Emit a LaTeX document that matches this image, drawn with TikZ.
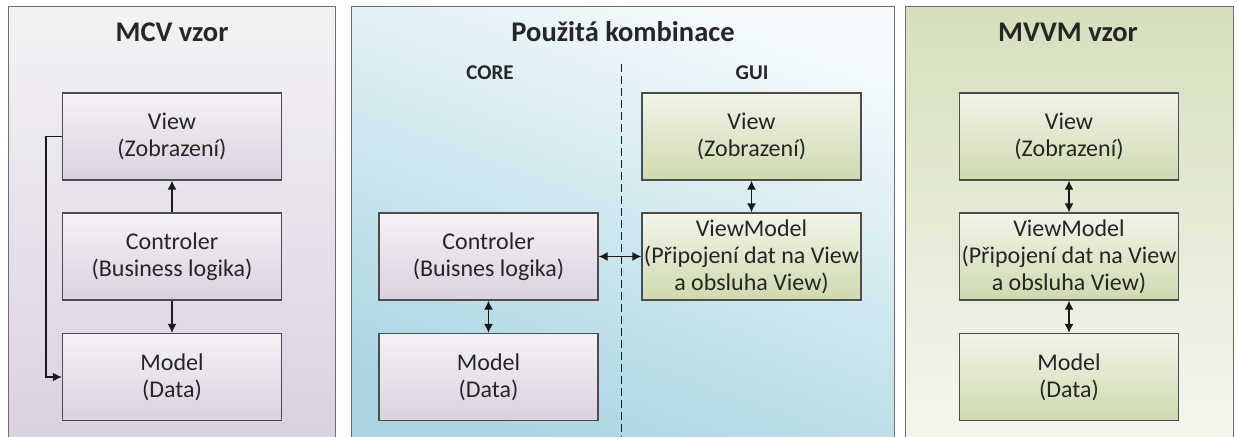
\documentclass[tikz,border=0pt]{standalone}
\usepackage{fontspec}
\setmainfont{Carlito}
\usetikzlibrary{arrows.meta}
\definecolor{panelborder}{HTML}{6E6E6E}
\definecolor{boxborder}{HTML}{4D4D4D}
\definecolor{lpTop}{HTML}{F4F2F5}
\definecolor{lpBot}{HTML}{DAD1E0}
\definecolor{mpTop}{HTML}{F4FAFC}
\definecolor{mpBot}{HTML}{A9D5E2}
\definecolor{rpTop}{HTML}{D5DFBC}
\definecolor{rpBot}{HTML}{F5F7EF}
\definecolor{lbTop}{HTML}{F5F2F6}
\definecolor{lbBot}{HTML}{DAD1DF}
\definecolor{gbTop}{HTML}{F1F4E8}
\definecolor{gbBot}{HTML}{CFDAAF}
\definecolor{txt}{HTML}{262626}
\definecolor{arrowcol}{HTML}{1A1A1A}
\tikzset{
  panel/.style={draw=panelborder, line width=1pt},
  box/.style={draw=boxborder, line width=1.3pt, minimum width=219pt, minimum height=87pt,
    align=center, inner sep=0pt, text=txt, font=\fontsize{24}{27}\selectfont},
  lbox/.style={box, top color=lbTop, bottom color=lbBot},
  gbox/.style={box, top color=gbTop, bottom color=gbBot},
  ptitle/.style={font=\fontsize{28.5}{32}\selectfont\bfseries, text=txt, inner sep=0pt},
  subtitle/.style={font=\fontsize{21}{24}\selectfont\bfseries, text=txt, inner sep=0pt},
  conn/.style={line width=1.3pt, draw=arrowcol},
  arr/.style={conn, -{Latex[length=9pt,width=9pt]}},
  darr/.style={conn, {Latex[length=9pt,width=9pt]}-{Latex[length=9pt,width=9pt]}},
}
\begin{document}
\begin{tikzpicture}[x=1pt,y=-1pt]
\useasboundingbox (0,0) rectangle (1238,436);
\clip (0,0) rectangle (1238,436);
\fill[white] (0,0) rectangle (1238,436);
% panels
\path[panel, top color=lpTop, bottom color=lpBot] (8,7) rectangle (335,445);
\path[panel, top color=mpTop, bottom color=mpBot, shading angle=-20] (351,7) rectangle (894,445);
\path[panel, top color=rpTop, bottom color=rpBot] (905,7) rectangle (1233,445);
% titles
\node[ptitle] (t1) at (172,32) {MCV vzor};
\node[ptitle] (t2) at (623,32) {Použitá kombinace};
\node[ptitle] (t3) at (1068,32) {MVVM vzor};
\node[subtitle] (core) at (490,73) {CORE};
\node[subtitle] (gui) at (752,73) {GUI};
\coordinate (dtop) at (621,64);
\coordinate (dbot) at (621,440);
\draw[conn, line width=1pt, dash pattern=on 8pt off 4pt] (dtop) -- (dbot);
% MCV
\node[lbox] (lview) at (172,136.5) {View\\(Zobrazení)};
\node[lbox] (lctrl) at (172,256.5) {Controler\\(Business logika)};
\node[lbox] (lmodel) at (172,377) {Model\\(Data)};
\draw[arr] (lctrl.north) -- (lview.south);
\draw[arr] (lctrl.south) -- (lmodel.north);
\draw[arr] (lview.west) -- ++(-16,0) |- (lmodel.west);
% combination
\node[lbox] (mctrl) at (488.5,256.5) {Controler\\(Buisnes logika)};
\node[lbox] (mmodel) at (488.5,377) {Model\\(Data)};
\node[gbox] (gview) at (751.5,136.5) {View\\(Zobrazení)};
\node[gbox] (gvm) at (751.5,256.5) {ViewModel\\(Připojení dat na View\\a obsluha View)};
\draw[darr] (mctrl.south) -- (mmodel.north);
\draw[darr] (gview.south) -- (gvm.north);
\draw[darr] (mctrl.east) -- (gvm.west);
% MVVM
\node[gbox] (rview) at (1069,136.5) {View\\(Zobrazení)};
\node[gbox] (rvm) at (1069,256.5) {ViewModel\\(Připojení dat na View\\a obsluha View)};
\node[gbox] (rmodel) at (1069,377) {Model\\(Data)};
\draw[darr] (rview.south) -- (rvm.north);
\draw[darr] (rvm.south) -- (rmodel.north);
\end{tikzpicture}
\end{document}
